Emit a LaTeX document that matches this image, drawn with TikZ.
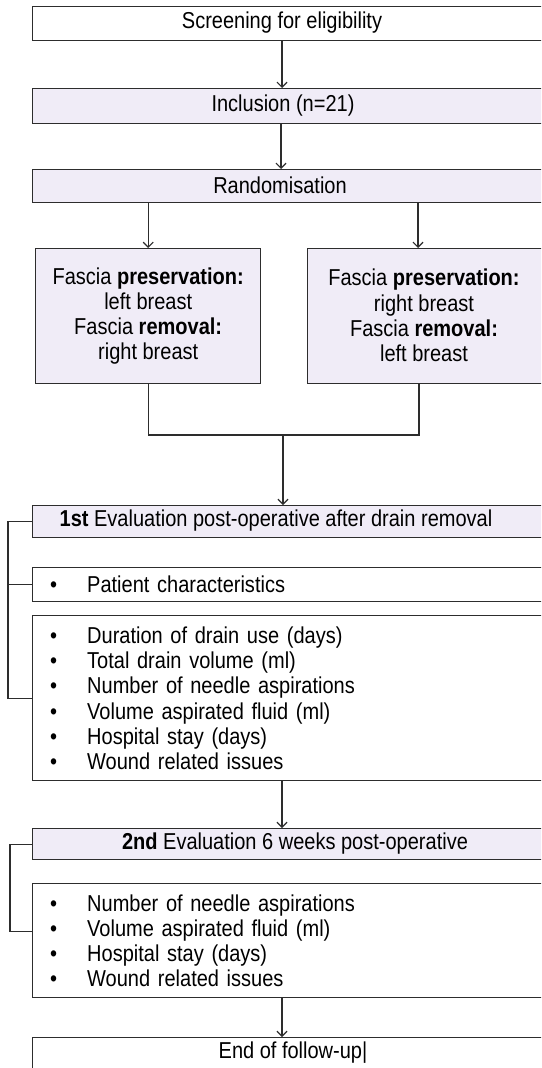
\documentclass[tikz,border=0pt]{standalone}
\usepackage{fontspec}
\setmainfont{Liberation Sans}[FakeStretch=0.87]
\usetikzlibrary{arrows.meta}
\definecolor{lav}{RGB}{240,236,247}
\definecolor{ln}{RGB}{45,45,45}
\begin{document}
\begin{tikzpicture}[x=1pt,y=-1pt,
  box/.style={draw=ln, line width=1.4pt, rectangle, inner sep=0pt, anchor=north west},
  lavbox/.style={box, fill=lav},
  wide/.style={minimum width=528pt},
  txt/.style={font=\fontsize{23}{25.2}\selectfont, text=black, inner sep=0pt},
  listbox/.style={box, txt, wide, text width=493pt, inner xsep=17.5pt, align=left},
  arr/.style={draw=ln, line width=1.2pt, -{Straight Barb[length=5pt,width=10pt]}},
  con/.style={draw=ln, line width=1.2pt},
]
\useasboundingbox (0,0) rectangle (541,1068);
% boxes run on past the right margin, so everything is cut to the page
\clip (0,0) rectangle (541,1068);
\fill[white] (0,0) rectangle (541,1068);

% recruitment
\node[box, wide, minimum height=34pt] (scr) at (32,6) {};
\node[txt] (scrt) at (282,23) {Screening for eligibility};
\node[lavbox, wide, minimum height=35pt] (inc) at (32,88) {};
\node[txt] (inct) at (283,105.5) {Inclusion (n=21)};
\node[lavbox, wide, minimum height=33pt] (rnd) at (32,169) {};
\node[txt] (rndt) at (280,185.5) {Randomisation};

% the two arms
\node[lavbox, txt, minimum width=225pt, minimum height=135pt, align=center] (fl) at (35,248)
  {Fascia \textbf{preservation:}\\left breast\\Fascia \textbf{removal:}\\right breast};
\node[lavbox, minimum width=253pt, minimum height=135pt] (fr) at (307,248) {};
\node[txt, align=center] (frt) at (424,315.5)
  {Fascia \textbf{preservation:}\\right breast\\Fascia \textbf{removal:}\\left breast};

% first evaluation
\node[lavbox, wide, minimum height=32pt] (ev1) at (32,505) {};
\node[txt] (ev1t) at (276,521) {\textbf{1st} Evaluation post-operative after drain removal};
\node[listbox, minimum height=34pt] (pc) at (32,567)
  {\makebox[37pt][l]{\textbullet}Patient characteristics};
\node[listbox, minimum height=165pt] (l1) at (32,615)
  {\makebox[37pt][l]{\textbullet}Duration of drain use (days)\\
   \makebox[37pt][l]{\textbullet}Total drain volume (ml)\\
   \makebox[37pt][l]{\textbullet}Number of needle aspirations\\
   \makebox[37pt][l]{\textbullet}Volume aspirated fluid (ml)\\
   \makebox[37pt][l]{\textbullet}Hospital stay (days)\\
   \makebox[37pt][l]{\textbullet}Wound related issues};

% second evaluation
\node[lavbox, wide, minimum height=31pt] (ev2) at (32,828) {};
\node[txt] (ev2t) at (295,843.5) {\textbf{2nd} Evaluation 6 weeks post-operative};
\node[listbox, minimum height=114pt] (l2) at (32,883)
  {\makebox[37pt][l]{\textbullet}Number of needle aspirations\\
   \makebox[37pt][l]{\textbullet}Volume aspirated fluid (ml)\\
   \makebox[37pt][l]{\textbullet}Hospital stay (days)\\
   \makebox[37pt][l]{\textbullet}Wound related issues};

% end
\node[box, wide, minimum height=32pt] (fin) at (32,1037) {};
\node[txt] (fint) at (293,1053) {End of follow-up|};

% connectors
\draw[arr] ([xshift=250pt]scr.south west) -- ([xshift=250pt]inc.north west);
\draw[arr] ([xshift=249pt]inc.south west) -- ([xshift=249pt]rnd.north west);
\draw[arr] (rnd.south -| fl.north) -- (fl.north);
\coordinate (frin) at ([xshift=111pt]fr.north west);
\draw[arr] (rnd.south -| frin) -- (frin);
\coordinate (frout) at ([xshift=112pt]fr.south west);
\coordinate (mrg) at (283,435);
\draw[con] (fl.south) -- (fl.south |- mrg) -- (frout |- mrg) -- (frout);
\draw[arr] (mrg) -- (mrg |- ev1.north);

\coordinate (b1) at (8,0);
\draw[con] (ev1.west) -- (ev1.west -| b1) -- (l1.west -| b1) -- (l1.west);
\draw[con] (pc.west) -- (pc.west -| b1);

\draw[arr] ([xshift=250pt]l1.south west) -- ([xshift=250pt]ev2.north west);

\coordinate (b2) at (10,0);
\draw[con] (ev2.west) -- (ev2.west -| b2) |- ([yshift=9pt]l2.west);

\draw[arr] ([xshift=250pt]l2.south west) -- ([xshift=250pt]fin.north west);
\end{tikzpicture}
\end{document}
